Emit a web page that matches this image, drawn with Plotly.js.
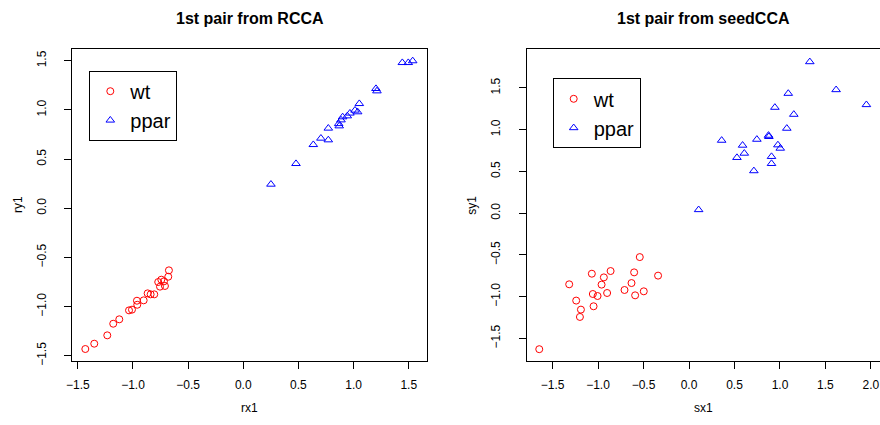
<!DOCTYPE html>
<html>
<head>
<meta charset="utf-8">
<script src="https://cdn.plot.ly/plotly-3.0.1.min.js"></script>
<style>html,body{margin:0;padding:0;background:#fff;}#chart{width:880px;height:425px;}</style>
</head>
<body>
<div id="chart"></div>
<script>
// ---- data ----
var groupNames = ["wt", "ppar"];
var panelTitles = ["1st pair from RCCA", "1st pair from seedCCA"];
var xTitles = ["rx1", "sx1"];
var yTitles = ["ry1", "sy1"];

var rx1_wt = [-1.432,-1.351,-1.233,-1.179,-1.124,-1.036,-1.009,-0.961,-0.964,-0.903,-0.867,-0.840,-0.807,-0.771,-0.755,-0.743,-0.719,-0.710,-0.680,-0.674];
var ry1_wt = [-1.431,-1.377,-1.292,-1.174,-1.129,-1.038,-1.031,-0.981,-0.940,-0.936,-0.865,-0.875,-0.875,-0.750,-0.797,-0.726,-0.743,-0.790,-0.696,-0.631];
var rx1_ppar = [0.251,0.478,0.635,0.704,0.771,0.771,0.870,0.865,0.886,0.901,0.943,0.967,1.013,1.037,1.052,1.203,1.212,1.442,1.496,1.536];
var ry1_ppar = [0.244,0.454,0.647,0.712,0.695,0.814,0.837,0.860,0.898,0.929,0.939,0.967,0.997,0.980,1.064,1.217,1.193,1.481,1.481,1.499];

var sx1_wt = [-1.646,-1.317,-1.240,-1.188,-1.199,-1.068,-1.057,-1.049,-1.005,-0.961,-0.936,-0.900,-0.862,-0.709,-0.632,-0.603,-0.592,-0.541,-0.497,-0.340];
var sy1_wt = [-1.629,-0.852,-1.047,-1.155,-1.243,-0.725,-0.968,-1.115,-0.992,-0.856,-0.769,-0.956,-0.693,-0.920,-0.837,-0.709,-0.984,-0.526,-0.936,-0.748];
var sx1_ppar = [0.106,0.359,0.527,0.589,0.608,0.713,0.746,0.874,0.878,0.907,0.907,0.944,0.977,1.003,1.075,1.091,1.152,1.328,1.617,1.950];
var sy1_ppar = [0.041,0.872,0.666,0.813,0.717,0.507,0.884,0.932,0.917,0.678,0.594,1.267,0.817,0.777,1.016,1.434,1.183,1.813,1.478,1.299];

// ---- styling ----
var FONT = "Liberation Sans, Arial, Helvetica, sans-serif";
var RED = "#FF0000", BLUE = "#0000FF";
var W = 880, H = 425;
function px(x){ return x / W; }
function py(y){ return 1 - y / H; }

var circ = {symbol: "circle-open", size: 7, color: RED, line: {color: RED, width: 1}};
var tri = {symbol: "triangle-up-open", size: 7.5, color: BLUE, line: {color: BLUE, width: 1}};

var traces = [
  {x: rx1_wt, y: ry1_wt, type: "scatter", mode: "markers", name: groupNames[0], marker: circ, xaxis: "x", yaxis: "y", legend: "legend", hoverinfo: "skip"},
  {x: rx1_ppar, y: ry1_ppar, type: "scatter", mode: "markers", name: groupNames[1], marker: tri, xaxis: "x", yaxis: "y", legend: "legend", hoverinfo: "skip"},
  {x: sx1_wt, y: sy1_wt, type: "scatter", mode: "markers", name: groupNames[0], marker: circ, xaxis: "x2", yaxis: "y2", legend: "legend2", hoverinfo: "skip"},
  {x: sx1_ppar, y: sy1_ppar, type: "scatter", mode: "markers", name: groupNames[1], marker: tri, xaxis: "x2", yaxis: "y2", legend: "legend2", hoverinfo: "skip"}
];

function axis(domain, range, anchor, isY){
  var a = {
    domain: domain, range: range, anchor: anchor, autorange: false,
    showgrid: false, zeroline: false,
    showline: true, mirror: true, linecolor: "#000", linewidth: 1,
    ticks: "outside", ticklen: 7, tickwidth: 1, tickcolor: "#000",
    tick0: 0, dtick: 0.5, tickformat: ".1f",
    tickfont: {family: FONT, size: 12, color: "#000"},
    fixedrange: true
  };
  if (isY) { a.tickangle = -90; a.ticklabelstandoff = 14; }
  else { a.ticklabelstandoff = 6; }
  return a;
}

var yDom = [py(360.7), py(49.3)];
var legendBase = {
  bgcolor: "#fff", bordercolor: "#000", borderwidth: 1,
  font: {family: FONT, size: 20, color: "#000"},
  xanchor: "left", yanchor: "top", itemclick: false, itemdoubleclick: false
};

var layout = {
  width: W, height: H,
  margin: {l: 0, r: 0, t: 0, b: 0},
  paper_bgcolor: "#fff", plot_bgcolor: "#fff",
  font: {family: FONT, color: "#000"},
  showlegend: true,
  xaxis: axis([px(72.3), px(426.7)], [-1.55, 1.663], "y", false),
  yaxis: axis(yDom, [-1.55, 1.617], "x", true),
  xaxis2: axis([px(526.7), px(879.5)], [-1.784, 2.094], "y2", false),
  yaxis2: axis(yDom, [-1.767, 1.963], "x2", true),
  legend: Object.assign({}, legendBase, {x: px(89.3), y: py(70.7)}),
  legend2: Object.assign({}, legendBase, {x: px(552.7), y: py(78.3)}),
  annotations: [
    {text: panelTitles[0], x: px(249.5), y: py(18.3), xref: "paper", yref: "paper", showarrow: false, xanchor: "center", yanchor: "middle", font: {family: FONT, size: 16, weight: "bold", color: "#000"}},
    {text: panelTitles[1], x: px(703), y: py(18.3), xref: "paper", yref: "paper", showarrow: false, xanchor: "center", yanchor: "middle", font: {family: FONT, size: 16, weight: "bold", color: "#000"}},
    {text: xTitles[0], x: px(249.5), y: py(408), xref: "paper", yref: "paper", showarrow: false, xanchor: "center", yanchor: "middle", font: {family: FONT, size: 12, color: "#000"}},
    {text: xTitles[1], x: px(703), y: py(408), xref: "paper", yref: "paper", showarrow: false, xanchor: "center", yanchor: "middle", font: {family: FONT, size: 12, color: "#000"}},
    {text: yTitles[0], x: px(18), y: py(205), xref: "paper", yref: "paper", showarrow: false, xanchor: "center", yanchor: "middle", textangle: -90, font: {family: FONT, size: 12, color: "#000"}},
    {text: yTitles[1], x: px(471.7), y: py(205), xref: "paper", yref: "paper", showarrow: false, xanchor: "center", yanchor: "middle", textangle: -90, font: {family: FONT, size: 12, color: "#000"}}
  ]
};

Plotly.newPlot("chart", traces, layout, {staticPlot: true, displayModeBar: false});
</script>
</body>
</html>
